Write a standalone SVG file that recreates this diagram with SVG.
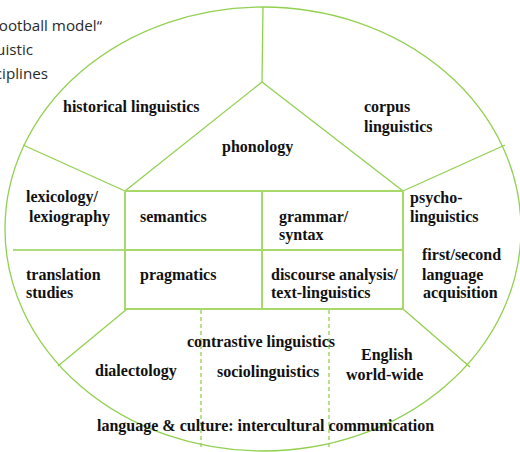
<svg xmlns="http://www.w3.org/2000/svg" width="520" height="452" viewBox="0 0 520 452">
  <style>
    .outline { fill: none; stroke: #92D050; stroke-width: 1.3; }
    .box { fill: none; stroke: #A6D96A; stroke-width: 2; }
    .dash { fill: none; stroke: #92D050; stroke-width: 1.3; stroke-dasharray: 4 3; }
    .lbl { font-family: "Liberation Serif", "Times New Roman", serif; font-weight: bold; font-size: 16px; fill: #111; }
    .title { font-family: "Open Sans", "DejaVu Sans", sans-serif; font-size: 15.2px; fill: #2a2a2a; }
  </style>
  <rect width="520" height="452" fill="#fff"/>

  <!-- heading, partly outside the left edge -->
  <g id="heading">
    <text class="title" x="102" y="31" text-anchor="end">„football model“</text>
    <text class="title" x="33" y="55" text-anchor="end">linguistic</text>
    <text class="title" x="48" y="79" text-anchor="end">disciplines</text>
  </g>

  <!-- ball outline and dividing lines -->
  <g id="connectors">
    <ellipse class="outline" cx="263" cy="229" rx="258" ry="222"/>
    <line class="outline" x1="263" y1="7" x2="262" y2="82"/>
    <line class="outline" x1="262" y1="82" x2="125" y2="191"/>
    <line class="outline" x1="262" y1="82" x2="403" y2="191"/>
    <line class="outline" x1="125" y1="191" x2="23" y2="145"/>
    <line class="outline" x1="403" y1="191" x2="505" y2="145"/>
    <line class="outline" x1="13" y1="250" x2="125" y2="250"/>
    <line class="outline" x1="127" y1="309" x2="58" y2="366"/>
    <line class="outline" x1="403" y1="309" x2="470" y2="367"/>
    <rect class="box" x="125" y="191" width="278" height="118"/>
    <line class="box" x1="125" y1="250" x2="403" y2="250"/>
    <line class="box" x1="262" y1="191" x2="262" y2="309"/>
    <line class="dash" x1="201" y1="310" x2="201" y2="449"/>
    <line class="dash" x1="329" y1="310" x2="329" y2="449"/>
  </g>

  <g id="historical"><text class="lbl" x="63" y="112">historical linguistics</text></g>
  <g id="corpus">
    <text class="lbl" x="364" y="112">corpus</text>
    <text class="lbl" x="364" y="132">linguistics</text>
  </g>
  <g id="phonology"><text class="lbl" x="222" y="152">phonology</text></g>
  <g id="lexicology">
    <text class="lbl" x="26" y="202">lexicology/</text>
    <text class="lbl" x="29" y="222">lexiography</text>
  </g>
  <g id="semantics"><text class="lbl" x="140" y="222">semantics</text></g>
  <g id="grammar">
    <text class="lbl" x="279" y="222">grammar/</text>
    <text class="lbl" x="279" y="240">syntax</text>
  </g>
  <g id="psycholinguistics">
    <text class="lbl" x="410" y="203">psycho-</text>
    <text class="lbl" x="410" y="222">linguistics</text>
  </g>
  <g id="acquisition">
    <text class="lbl" x="422" y="260">first/second</text>
    <text class="lbl" x="422" y="280">language</text>
    <text class="lbl" x="423" y="298">acquisition</text>
  </g>
  <g id="translation">
    <text class="lbl" x="26" y="280">translation</text>
    <text class="lbl" x="26" y="298">studies</text>
  </g>
  <g id="pragmatics"><text class="lbl" x="140" y="280">pragmatics</text></g>
  <g id="discourse">
    <text class="lbl" x="271" y="280">discourse analysis/</text>
    <text class="lbl" x="271" y="298">text-linguistics</text>
  </g>
  <g id="contrastive"><text class="lbl" x="187" y="347">contrastive linguistics</text></g>
  <g id="dialectology"><text class="lbl" x="95" y="376">dialectology</text></g>
  <g id="sociolinguistics"><text class="lbl" x="217" y="377">sociolinguistics</text></g>
  <g id="english">
    <text class="lbl" x="361" y="360">English</text>
    <text class="lbl" x="346" y="380">world-wide</text>
  </g>
  <g id="culture"><text class="lbl" x="97" y="431">language &amp; culture: intercultural communication</text></g>
</svg>
